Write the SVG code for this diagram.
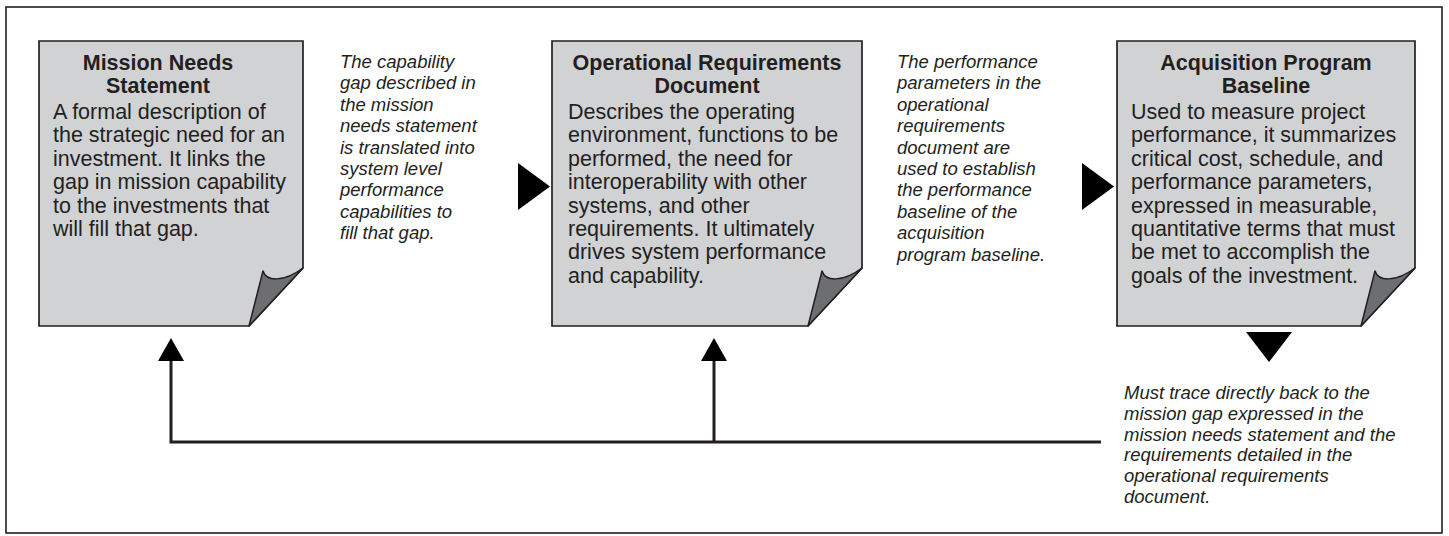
<svg xmlns="http://www.w3.org/2000/svg" width="1449" height="536" viewBox="0 0 1449 536">
<style>
.frame{fill:#fff;stroke:#231f20;stroke-width:1.6}
.page{fill:#d1d2d4;stroke:#231f20;stroke-width:1.7;stroke-linejoin:miter}
.fold{fill:#6d6e70;stroke:#231f20;stroke-width:1.5;stroke-linejoin:round}
.title{font-family:"Liberation Sans",Arial,sans-serif;font-size:21.5px;font-weight:bold;fill:#231f20;text-anchor:middle}
.body{font-family:"Liberation Sans",Arial,sans-serif;font-size:21.5px;fill:#231f20}
.note{font-family:"Liberation Sans",Arial,sans-serif;font-size:18.5px;font-style:italic;fill:#231f20}
.line{fill:none;stroke:#231f20;stroke-width:3}
.head{fill:#000}
</style>
<rect class="frame" x="6" y="7" width="1436" height="526"/>

<g id="mission-needs-statement">
<path class="page" d="M39,41 H303 V268 L249,326 H39 Z"/>
<path class="fold" d="M249,326 L263,271 C266,281 283,283 303,268 Z"/>
<text class="title" x="158" y="70">Mission Needs</text>
<text class="title" x="158" y="93">Statement</text>
<text class="body"><tspan x="53" y="119">A formal description of</tspan><tspan x="53" y="142.4">the strategic need for an</tspan><tspan x="53" y="165.8">investment. It links the</tspan><tspan x="53" y="189.2">gap in mission capability</tspan><tspan x="53" y="212.6">to the investments that</tspan><tspan x="53" y="236">will fill that gap.</tspan></text>
</g>

<g id="note-1">
<text class="note"><tspan x="340" y="68">The capability</tspan><tspan x="340" y="89.4">gap described in</tspan><tspan x="340" y="110.8">the mission</tspan><tspan x="340" y="132.2">needs statement</tspan><tspan x="340" y="153.6">is translated into</tspan><tspan x="340" y="175">system level</tspan><tspan x="340" y="196.4">performance</tspan><tspan x="340" y="217.8">capabilities to</tspan><tspan x="340" y="239.2">fill that gap.</tspan></text>
</g>

<g id="operational-requirements-document">
<path class="page" d="M552,41 H862 V268 L808,326 H552 Z"/>
<path class="fold" d="M808,326 L822,271 C825,281 842,283 862,268 Z"/>
<text class="title" x="707" y="70">Operational Requirements</text>
<text class="title" x="707" y="93">Document</text>
<text class="body"><tspan x="568" y="119">Describes the operating</tspan><tspan x="568" y="142.4">environment, functions to be</tspan><tspan x="568" y="165.8">performed, the need for</tspan><tspan x="568" y="189.2">interoperability with other</tspan><tspan x="568" y="212.6">systems, and other</tspan><tspan x="568" y="236">requirements. It ultimately</tspan><tspan x="568" y="259.4">drives system performance</tspan><tspan x="568" y="282.8">and capability.</tspan></text>
</g>

<g id="note-2">
<text class="note"><tspan x="897" y="68">The performance</tspan><tspan x="897" y="89.4">parameters in the</tspan><tspan x="897" y="110.8">operational</tspan><tspan x="897" y="132.2">requirements</tspan><tspan x="897" y="153.6">document are</tspan><tspan x="897" y="175">used to establish</tspan><tspan x="897" y="196.4">the performance</tspan><tspan x="897" y="217.8">baseline of the</tspan><tspan x="897" y="239.2">acquisition</tspan><tspan x="897" y="260.6">program baseline.</tspan></text>
</g>

<g id="acquisition-program-baseline">
<path class="page" d="M1117,41 H1415 V268 L1361,326 H1117 Z"/>
<path class="fold" d="M1361,326 L1375,271 C1378,281 1395,283 1415,268 Z"/>
<text class="title" x="1266" y="70">Acquisition Program</text>
<text class="title" x="1266" y="93">Baseline</text>
<text class="body"><tspan x="1131" y="119">Used to measure project</tspan><tspan x="1131" y="142.4">performance, it summarizes</tspan><tspan x="1131" y="165.8">critical cost, schedule, and</tspan><tspan x="1131" y="189.2">performance parameters,</tspan><tspan x="1131" y="212.6">expressed in measurable,</tspan><tspan x="1131" y="236">quantitative terms that must</tspan><tspan x="1131" y="259.4">be met to accomplish the</tspan><tspan x="1131" y="282.8">goals of the investment.</tspan></text>
</g>

<g id="note-3">
<text class="note"><tspan x="1124" y="399">Must trace directly back to the</tspan><tspan x="1124" y="419.8">mission gap expressed in the</tspan><tspan x="1124" y="440.6">mission needs statement and the</tspan><tspan x="1124" y="461.4">requirements detailed in the</tspan><tspan x="1124" y="482.2">operational requirements</tspan><tspan x="1124" y="503">document.</tspan></text>
</g>

<g id="connectors">
<polygon class="head" points="518,163 550,186.5 518,210"/>
<polygon class="head" points="1082,163 1114,186.5 1082,210"/>
<polygon class="head" points="1246,332 1292,332 1269,362"/>
<path class="line" d="M1101,442 H171 V359"/>
<path class="line" d="M714,442 V359"/>
<polygon class="head" points="171,338 158,361 184,361"/>
<polygon class="head" points="714,338 701,361 727,361"/>
</g>
</svg>
